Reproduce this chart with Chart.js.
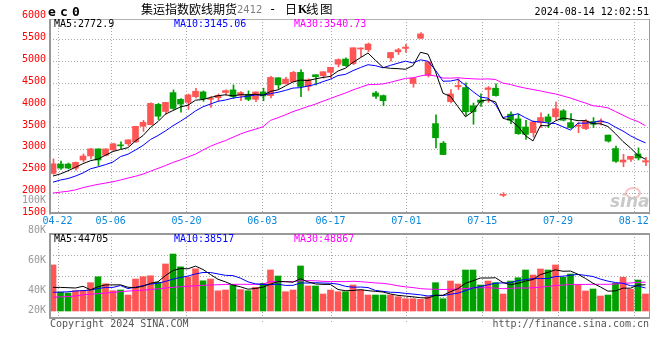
<!DOCTYPE html>
<html><head><meta charset="utf-8">
<script src="https://cdn.jsdelivr.net/npm/chart.js@4.4.0/dist/chart.umd.min.js"></script>
<style>html,body{margin:0;padding:0;background:#fff;}#wrap{width:660px;height:360px;position:relative;}</style>
</head><body><div id="wrap"><canvas id="c" width="660" height="360"></canvas></div>
<script>
// ---------------- data ----------------
const dates = ['04-19','04-22','04-23','04-24','04-25','04-26','04-29','04-30',
 '05-06','05-07','05-08','05-09','05-10','05-13','05-14','05-15','05-16','05-17',
 '05-20','05-21','05-22','05-23','05-24','05-27','05-28','05-29','05-30','05-31',
 '06-03','06-04','06-05','06-06','06-07','06-11','06-12','06-13','06-14',
 '06-17','06-18','06-19','06-20','06-21','06-24','06-25','06-26','06-27','06-28',
 '07-01','07-02','07-03','07-04','07-05','07-08','07-09','07-10','07-11','07-12',
 '07-15','07-16','07-17','07-18','07-19','07-22','07-23','07-24','07-25','07-26',
 '07-29','07-30','07-31','08-01','08-02','08-05','08-06','08-07','08-08','08-09',
 '08-12','08-13','08-14'];
const opens = [2440,2654,2654,2561,2746,2838,3000,2854,2977,3084,
 3115,3161,3515,3553,4015,3853,4284,4130,4061,4192,
 4300,4131,4169,4285,4346,4223,4246,4131,4300,4215,
 4623,4485,4531,4746,4423,4692,4669,4746,4931,5050,
 4946,5280,5262,4277,4216,5077,5215,5292,4492,5523,
 4677,3577,3131,4077,4416,4400,3985,4116,4354,4385,
 1940,3792,3685,3500,3369,3600,3731,3731,3869,3600,
 3515,3462,3623,3608,3315,3008,2700,2762,2885,2700];
const highs = [2770,2723,2677,2700,2884,3015,3000,3000,3130,3161,
 3207,3515,3653,4053,4038,4061,4345,4146,4253,4384,
 4323,4192,4254,4346,4461,4308,4323,4300,4385,4654,
 4623,4631,4769,4807,4600,4692,4761,4861,5054,5077,
 5308,5308,5415,4316,4231,5200,5292,5385,4616,5654,
 4985,3777,3170,4354,4600,4508,4046,4254,4423,4485,
 2000,3846,3792,3654,3639,3823,3792,4069,3900,3808,
 3600,3669,3715,3685,3315,3062,2877,2831,3023,2808];
const lows = [2420,2531,2546,2515,2700,2769,2623,2838,2961,3007,
 3069,3146,3400,3546,3669,3792,3900,3838,3900,4161,
 4085,3946,4100,4223,4154,4100,4100,4077,4100,4161,
 4377,4485,4531,4192,4331,4461,4615,4615,4869,4884,
 4923,5100,5215,4154,3985,5000,5154,5200,4408,5523,
 4639,3024,2870,4046,4354,3754,3562,3970,4062,4200,
 1910,3577,3331,3215,3269,3485,3485,3662,3639,3469,
 3369,3438,3485,3546,3154,2692,2592,2715,2746,2615];
const closes = [2660,2561,2561,2692,2838,3000,2746,3000,3115,3069,
 3207,3515,3607,4038,3746,4061,3923,4022,4230,4315,
 4146,4154,4223,4331,4192,4285,4131,4300,4208,4631,
 4461,4592,4746,4423,4577,4646,4761,4861,5038,4900,
 5308,5300,5392,4200,4100,5200,5262,5323,4616,5623,
 4985,3254,2870,4254,4446,3847,3847,4062,4393,4216,
 1960,3654,3346,3331,3615,3715,3623,3915,3654,3485,
 3538,3638,3562,3638,3177,2716,2746,2831,2792,2731];
// volume, thousands of lots
const volumesK = [78,32,30.5,34.4,34.7,48,58,46.1,34.4,35.6,
 27.1,54.2,58.1,59.7,48.8,79.7,96.6,74.9,57.6,71.5,
 51.2,54.2,34.2,35.6,44.4,36.3,34.4,40.2,46.9,69.5,
 59.3,32.7,35.6,76.3,42.4,42.4,28.8,35.6,32.7,32.7,
 44.1,35.6,27.1,27.1,27.1,27.1,24.2,20.8,20.8,19.8,
 24.2,48,20.8,50.8,45.8,69.5,69.5,44.1,50.8,48,
 28.8,50.8,56.4,69.5,61,71.2,69.5,78,57.1,62.7,
 44.1,33.9,37.3,25.4,27.1,46.9,57.1,36.8,52.5,28.8];
const ma5Head = [2380,2430,2500,2580];
const ma10Head = [2240,2290,2323,2380,2450,2545,2590,2640,2700];
const ma30Head = [1992,2013,2033,2065,2115,2155,2190,2220,2250,2290,2335,2375,2425,2490,2555,2620,2690,2750,2815,2880,2975,3060,3130,3190,3265,3340,3400,3450,3506];
const vma5Head = [40,40,39.5,39];
const vma10Head = [31.7,32,32.5,34,34.5,35.5,38,40,40];
const vma30Head = [23.3,24,24.5,25.5,27.5,28.5,29.5,30.5,31.5,32.8,33.8,34.6,35.3,36.3,37.5,39,40.2,41,42,42.8,43.5,44,44.5,45,45.2,45.2,45.2,45.2,45.5];
const dateTicks = ['04-22','05-06','05-20','06-03','06-17','07-01','07-15','07-29','08-12'];
const priceTicks = [1500,2000,2500,3000,3500,4000,4500,5000,5500,6000];
const volTicksK = [20,40,60,80,100];
const maTexts = ['MA5:2772.9','MA10:3145.06','MA30:3540.73'];
const volMaTexts = ['MA5:44705','MA10:38517','MA30:48867'];
const titleMain = '集运指数欧线期货', titleCode = '2412', stamp = '2024-08-14 12:02:51';

// ---------------- layout / style ----------------
const RED = '#ff5555', GREEN = '#00a000';
const MA_COLORS = ['#000000','#0000ff','#ff00ff'];
const P = {top:19, bottom:213.5}, V = {top:234, bottom:318}, L = 50, R = 649;
const MONO = '"DejaVu Sans Mono", monospace';
const CJK = '"Noto Sans CJK SC", sans-serif';

const n = dates.length;
const colors = closes.map((c,i)=> c >= opens[i] ? RED : GREEN);
function sma(arr, p, head){
  return arr.map((v,i)=> i < p-1 ? head[i] : arr.slice(i-p+1,i+1).reduce((a,b)=>a+b,0)/p);
}
const pts = arr => arr.map((v,i)=>({x:i, y:v}));
const lineDs = (data, color, yId) => ({type:'line', data:pts(data), borderColor:color, borderWidth:1,
  pointRadius:0, tension:0, yAxisID:yId, xAxisID:'x', order:1, fill:false});

const labelPlugin = {
  id:'deco',
  beforeDraw(chart){
    const ctx = chart.ctx, xs = chart.scales.x, yp = chart.scales.y;
    ctx.save();
    ctx.fillStyle = '#fff'; ctx.fillRect(0,0,chart.width,chart.height);
    ctx.strokeStyle = '#aaa'; ctx.lineWidth = 1; ctx.setLineDash([1,2]);
    const seg = (x1,y1,x2,y2)=>{ctx.beginPath();ctx.moveTo(x1,y1);ctx.lineTo(x2,y2);ctx.stroke();};
    priceTicks.forEach(p=>{
      const y = Math.round(yp.getPixelForValue(p)) + 0.5;
      if (y > P.top + 3 && y < P.bottom - 3) seg(L, y, R, y);
    });
    for (let k=1;k<4;k++){
      const y = Math.round(V.top + (V.bottom - V.top)*k/4) + 0.5;
      seg(L, y, R, y);
    }
    dateTicks.forEach(d=>{
      const x = Math.round(gridX(xs, dates.indexOf(d))) + 0.5;
      seg(x, P.top, x, P.bottom);
      seg(x, V.top, x, V.bottom + 5);
    });
    ctx.restore();
  },
  afterDatasetsDraw(chart){
    const ctx = chart.ctx;
    ctx.save();
    ctx.fillStyle = '#b0b0b0'; ctx.fillRect(L, P.top, R-L, 1);
    ctx.fillStyle = '#999'; ctx.fillRect(R, P.top, 1, P.bottom - P.top + 1);
    ctx.fillRect(L-1, P.top, 2, P.bottom - P.top + 1);
    ctx.fillRect(L-1, P.bottom - 1.5, R-L+2, 2);
    ctx.fillRect(L-1, V.top - 1, R-L+2, 2);
    ctx.fillRect(L-1, V.top - 1, 2, V.bottom - V.top + 2);
    ctx.fillRect(L-1, V.bottom - 1, R-L+2, 2);
    ctx.fillRect(R, V.top - 1, 1, V.bottom - V.top + 1);
    ctx.restore();
  },
  afterDraw(chart){
    const ctx = chart.ctx, xs = chart.scales.x, yp = chart.scales.y, yl = chart.scales.yl;
    ctx.save();
    ctx.strokeStyle = 'rgba(240,120,120,0.45)'; ctx.lineWidth = 2;
    ctx.beginPath(); ctx.ellipse(633, 193, 7, 5, 0, 0, Math.PI*2); ctx.stroke();
    ctx.fillStyle = '#c9c9c9'; ctx.font = 'italic bold 17px "DejaVu Sans", sans-serif';
    ctx.textAlign = 'left'; ctx.textBaseline = 'alphabetic';
    ctx.fillText('sina', 610, 207);

    ctx.textBaseline = 'middle';
    ctx.font = '10px ' + MONO; ctx.textAlign = 'right'; ctx.fillStyle = '#ff0000';
    priceTicks.forEach(p=> ctx.fillText(String(p), 46, yp.getPixelForValue(p) - 2));
    ctx.fillStyle = '#999999';
    volTicksK.forEach(v=>{
      const y = Math.min(yl.getPixelForValue(v), V.bottom - 8);
      ctx.fillText(v + 'K', 46, y);
    });
    ctx.textAlign = 'center'; ctx.fillStyle = '#0a88dc';
    dateTicks.forEach(d=> ctx.fillText(d, gridX(xs, dates.indexOf(d)), 221.5));
    ctx.textAlign = 'left';
    [54,174,294].forEach((x,k)=>{
      ctx.fillStyle = MA_COLORS[k];
      ctx.fillText(maTexts[k], x, 24);
      ctx.fillText(volMaTexts[k], x, 239);
    });
    ctx.fillStyle = '#555';
    ctx.fillText('Copyright 2024 SINA.COM', 50, 324);
    ctx.textAlign = 'right';
    ctx.fillText('http://finance.sina.com.cn', 649, 324);
    ctx.fillStyle = '#000'; ctx.fillText(stamp, 649, 12);
    ctx.textAlign = 'left'; ctx.textBaseline = 'alphabetic';
    ctx.font = 'bold 13px ' + MONO;
    ['e','c','0'].forEach((ch,k)=> ctx.fillText(ch, 48 + k*12, 16));
    ctx.font = '12px ' + CJK;
    ctx.fillText(titleMain, 141, 13.5);
    ctx.fillStyle = '#808080'; ctx.font = '10px "DejaVu Sans", sans-serif';
    ctx.fillText(titleCode, 237, 12.5);
    ctx.fillStyle = '#000'; ctx.font = '12px ' + MONO;
    ctx.fillText('-', 269, 13);
    ctx.font = '12px ' + CJK; ctx.fillText('日', 285, 13.5);
    ctx.font = 'bold 12px "Liberation Serif", serif'; ctx.fillText('K', 298, 13);
    ctx.font = '12.5px ' + CJK; ctx.fillText('线', 306, 13.5); ctx.fillText('图', 320, 13.5);
    ctx.restore();
  }
};
function gridX(xs, i){ return xs.getPixelForValue(xs.min + i*(xs.max - xs.min)/(n-1)); }

new Chart(document.getElementById('c'), {
  type:'bar',
  data:{ datasets:[
    {label:'wick', data:dates.map((d,i)=>({x:i, y:[lows[i], highs[i]]})), backgroundColor:colors,
     barThickness:1, grouped:false, xAxisID:'xw', yAxisID:'y', order:10},
    {label:'body', data:dates.map((d,i)=>({x:i, y:[opens[i], closes[i]]})), backgroundColor:colors,
     barThickness:6, minBarLength:1, grouped:false, xAxisID:'x', yAxisID:'y', order:9},
    {label:'vol', data:pts(volumesK), backgroundColor:colors, barThickness:6, grouped:false,
     xAxisID:'x', yAxisID:'yv', order:8},
    lineDs(sma(closes,5,ma5Head), MA_COLORS[0], 'y'),
    lineDs(sma(closes,10,ma10Head), MA_COLORS[1], 'y'),
    lineDs(sma(closes,30,ma30Head), MA_COLORS[2], 'y'),
    lineDs(sma(volumesK,5,vma5Head), MA_COLORS[0], 'yv'),
    lineDs(sma(volumesK,10,vma10Head), MA_COLORS[1], 'yv'),
    lineDs(sma(volumesK,30,vma30Head), MA_COLORS[2], 'yv')
  ]},
  options:{
    responsive:false, animation:false, events:[],
    layout:{padding:{left:L, top:P.top, right:660-R, bottom:360-V.bottom}},
    plugins:{legend:{display:false}, tooltip:{enabled:false}},
    scales:{
      x:{type:'linear', offset:false, min:-0.4, max:79.467, display:false},
      xw:{type:'linear', offset:false, min:-0.4667, max:79.4, display:false},
      y:{type:'linear', min:-859.4, max:5963.8, display:false},
      yv:{type:'linear', min:-11.86, max:494.9, display:false},
      yl:{type:'linear', min:21.2, max:221.9, display:false}
    }
  },
  plugins:[labelPlugin]
});
</script>
</body></html>
